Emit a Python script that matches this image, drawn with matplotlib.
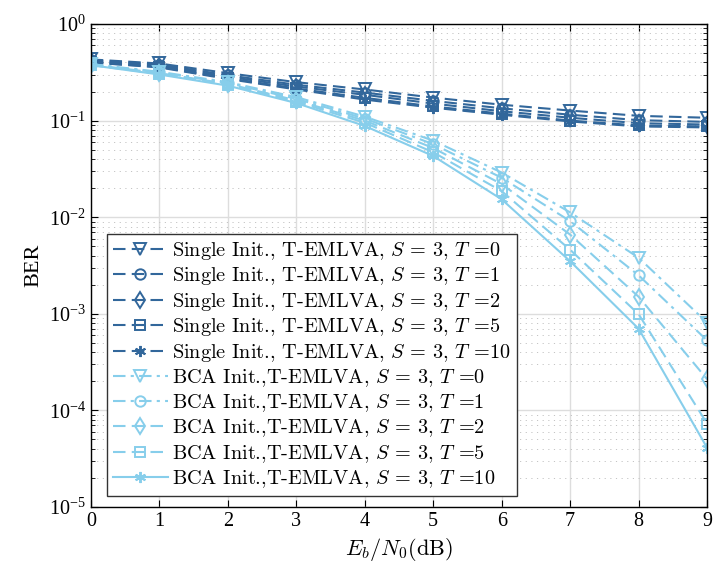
import matplotlib
matplotlib.use("Agg")
import matplotlib.pyplot as plt
from matplotlib.ticker import LogLocator, NullFormatter, FixedLocator

plt.rcParams['font.family'] = ['Liberation Serif', 'DejaVu Serif']
plt.rcParams['mathtext.fontset'] = 'cm'
plt.rcParams['axes.unicode_minus'] = True

ebn0 = [0, 1, 2, 3, 4, 5, 6, 7, 8, 9]
T_values = [0, 1, 2, 5, 10]
ytick_exponents = [-5, -4, -3, -2, -1, 0]

single_T0 = [0.43, 0.39, 0.31, 0.25, 0.21, 0.173, 0.146, 0.127, 0.112, 0.107]
single_T1 = [0.42, 0.38, 0.295, 0.235, 0.195, 0.160, 0.134, 0.115, 0.101, 0.097]
single_T2 = [0.41, 0.37, 0.285, 0.225, 0.185, 0.150, 0.125, 0.107, 0.094, 0.091]
single_T5 = [0.40, 0.36, 0.275, 0.215, 0.172, 0.140, 0.118, 0.100, 0.089, 0.087]
single_T10 = [0.40, 0.355, 0.27, 0.21, 0.165, 0.136, 0.115, 0.098, 0.087, 0.085]

bca_T0 = [0.385, 0.32, 0.25, 0.175, 0.110, 0.062, 0.029, 0.0112, 0.0038, 0.00081]
bca_T1 = [0.38, 0.315, 0.245, 0.168, 0.105, 0.057, 0.0256, 0.0091, 0.0025, 0.00053]
bca_T2 = [0.38, 0.31, 0.24, 0.162, 0.100, 0.052, 0.022, 0.0066, 0.0015, 0.00021]
bca_T5 = [0.375, 0.305, 0.235, 0.157, 0.095, 0.047, 0.0186, 0.0046, 0.00099, 0.000073]
bca_T10 = [0.375, 0.30, 0.23, 0.152, 0.088, 0.043, 0.0153, 0.0035, 0.00070, 0.000041]

single_series = [single_T0, single_T1, single_T2, single_T5, single_T10]
bca_series = [bca_T0, bca_T1, bca_T2, bca_T5, bca_T10]

dark = '#32679b'
light = '#87ceeb'
markers = ['v', 'o', 'd', 's', (6, 2, 0)]
msizes = [8, 7.5, 8, 6.5, 8]
bca_styles = ['-.', '-.', '--', '--', '-']
DASH = (0, (6, 3))
DASHDOT = (0, (6, 2.5, 1.5, 2.5))

fig = plt.figure(figsize=(7.15, 5.74), dpi=100)
ax = fig.add_axes([0.127, 0.1167, 0.862, 0.8415])

for T, s, m, ms in zip(T_values, single_series, markers, msizes):
    ax.semilogy(ebn0, s, linestyle=DASH, color=dark, marker=m, markersize=ms,
                markerfacecolor='none', markeredgewidth=1.4, linewidth=1.5,
                label=r'Single Init., T-EMLVA, $S$ = 3, $T$ =%d' % T)
for T, s, m, ms, ls in zip(T_values, bca_series, markers, msizes, bca_styles):
    if ls == '--':
        ls = DASH
    elif ls == '-.':
        ls = DASHDOT
    ax.semilogy(ebn0, s, linestyle=ls, color=light, marker=m, markersize=ms,
                markerfacecolor='none', markeredgewidth=1.4, linewidth=1.5,
                label=r'BCA Init.,T-EMLVA, $S$ = 3, $T$ =%d' % T)

ax.set_xlim(0, 9)
ax.set_ylim(1e-5, 1)
ax.set_xticks(ebn0)
ax.set_xticklabels([str(v) for v in ebn0])
ax.yaxis.set_major_locator(FixedLocator([10.0 ** e for e in ytick_exponents]))
ax.set_yticklabels([r'$\mathdefault{10^{%d}}$' % e for e in ytick_exponents])
ax.yaxis.set_minor_locator(LogLocator(base=10, subs=range(2, 10), numticks=20))
ax.yaxis.set_minor_formatter(NullFormatter())

ax.grid(True, which='major', color='#dddddd', linewidth=1.0, linestyle='-')
ax.grid(True, which='minor', axis='y', color='#c4c4c4', linewidth=0.7, linestyle=(0, (1.2, 4.6)))
ax.set_axisbelow(True)

ax.tick_params(which='both', direction='in', top=True, right=True, labelsize=14.5)
ax.tick_params(which='major', length=5)
ax.tick_params(which='minor', length=3)
for sp in ax.spines.values():
    sp.set_linewidth(1.0)

ax.set_xlabel(r'$E_b/N_0\mathrm{(dB)}$', fontsize=16)
ax.set_ylabel('BER', fontsize=16)

leg = ax.legend(loc='lower left', bbox_to_anchor=(0.026, 0.023), borderaxespad=0,
                prop={'family': 'cmr10', 'size': 14.6}, fancybox=False,
                edgecolor='#333333', framealpha=1,
                handlelength=2.7, labelspacing=0.17, borderpad=0.3, handletextpad=0.2)
leg.get_frame().set_linewidth(1.0)

fig.savefig('out.png', dpi=100)
